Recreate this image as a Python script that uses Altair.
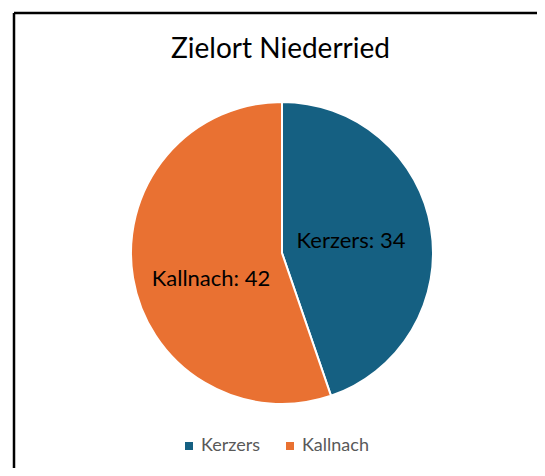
import altair as alt
import pandas as pd

categories = ["Kerzers", "Kallnach"]
values = [34, 42]
order_idx = [0, 1]
colors = ["#156082", "#E97132"]

df = pd.DataFrame({"Zielort": categories, "Anzahl": values, "idx": order_idx})
df["label"] = df["Zielort"] + ": " + df["Anzahl"].astype(str)

FONT = "Lato"
CX, CY, R = 274, 245, 151

base = alt.Chart(df).encode(
    theta=alt.Theta("Anzahl:Q", stack=True),
    order=alt.Order("idx:O"),
)

pie = base.mark_arc(stroke="white", strokeWidth=2).encode(
    color=alt.Color(
        "Zielort:N",
        scale=alt.Scale(domain=categories, range=colors),
        legend=alt.Legend(
            title=None,
            orient="none",
            legendX=172,
            legendY=429,
            direction="horizontal",
            symbolType="square",
            symbolSize=64,
            symbolStrokeWidth=0,
            labelFont=FONT,
            labelFontSize=18,
            labelColor="#595959",
            labelOffset=3,
            columnPadding=20,
            padding=0,
        ),
    ),
    x=alt.value(CX),
    y=alt.value(CY),
    radius=alt.value(R),
)

label_right = base.mark_text(font=FONT, fontSize=22, color="black").encode(
    text=alt.condition("datum.Zielort == 'Kerzers'", alt.Text("label:N"), alt.value("")),
    x=alt.value(CX),
    y=alt.value(CY),
    radius=alt.value(70),
)

label_left = base.mark_text(font=FONT, fontSize=22, color="black", dy=14).encode(
    text=alt.condition("datum.Zielort == 'Kallnach'", alt.Text("label:N"), alt.value("")),
    x=alt.value(CX),
    y=alt.value(CY),
    radius=alt.value(72),
)

frame_data = alt.Data(values=[{"a": 1}])
frame_top = alt.Chart(frame_data).mark_rule(color="black", strokeWidth=2.5).encode(
    x=alt.value(6), x2=alt.value(529), y=alt.value(5)
)
frame_left = alt.Chart(frame_data).mark_rule(color="black", strokeWidth=2.5).encode(
    x=alt.value(6), y=alt.value(5), y2=alt.value(460)
)

chart = alt.layer(frame_top, frame_left, pie, label_right, label_left).properties(
    width=529,
    height=460,
    padding=0,
    autosize=alt.AutoSizeParams(type="none"),
    title=alt.TitleParams(
        "Zielort Niederried",
        font=FONT,
        fontSize=28,
        fontWeight="normal",
        color="black",
        anchor="middle",
        offset=-56,
        dx=8,
    ),
).configure_view(strokeWidth=0, strokeOpacity=0)

chart.save("out.html", embed_options={"renderer": "svg", "actions": False})
